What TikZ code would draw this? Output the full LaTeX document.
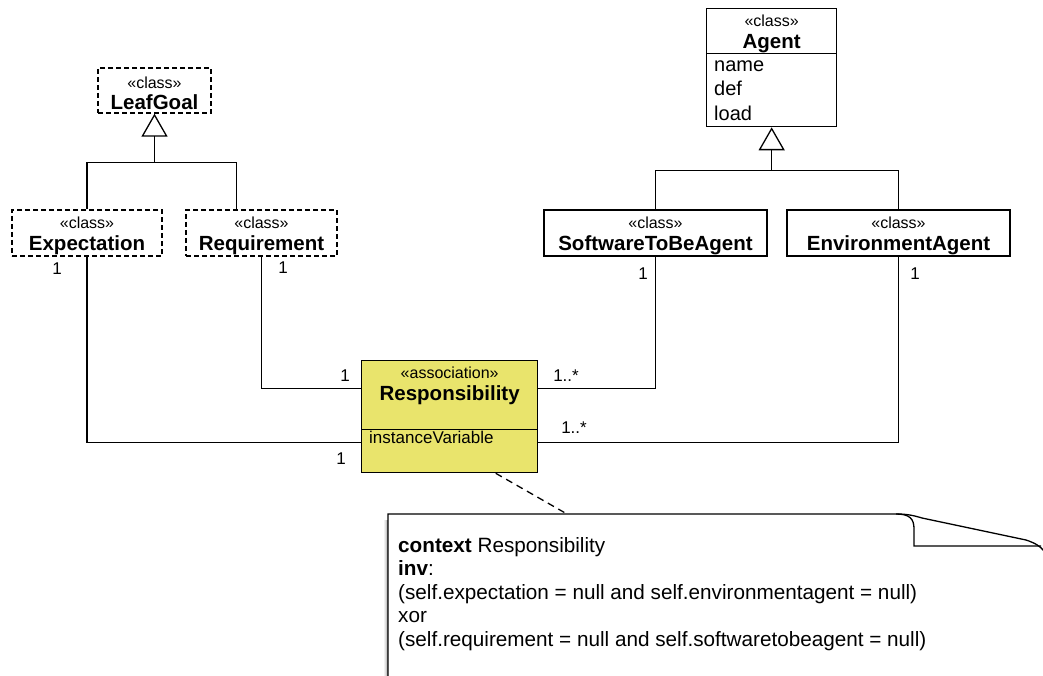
\documentclass[tikz,border=0pt]{standalone}
\usepackage{fontspec}
\setmainfont{Liberation Sans}
\usetikzlibrary{arrows.meta,calc}
\definecolor{assocyellow}{RGB}{233,228,108}
\newcommand\stereo[1]{{\fontsize{16}{18}\selectfont\rule{0pt}{17.5pt}«#1»}}
\newcommand\cname[1]{{\fontsize{20.5}{22}\selectfont\bfseries #1}}
\begin{document}
\begin{tikzpicture}[x=1pt,y=-1pt,
  box/.style={draw, line width=1.3pt, inner sep=0pt, align=center, fill=white, font=\fontsize{20.5}{21.5}\selectfont},
  abstractbox/.style={box, dash pattern=on 5pt off 3pt},
  wire/.style={line width=1.3pt},
  gen/.style={line width=1.3pt, -{Triangle[open, length=23pt, width=26pt, line width=1.3pt]}},
  mult/.style={font=\fontsize{17}{19}\selectfont, inner sep=0pt}
]
\useasboundingbox (0,0) rectangle (1043,676);

% ---- goal hierarchy ----
\node[abstractbox, minimum width=113pt, minimum height=45pt] (leaf) at (154.5,90.5) {\stereo{class}\\\cname{LeafGoal}};
\node[abstractbox, minimum width=150pt, minimum height=46pt] (exp) at (87,233) {\stereo{class}\\\cname{Expectation}};
\node[abstractbox, minimum width=151pt, minimum height=46pt] (req) at (261.5,233) {\stereo{class}\\\cname{Requirement}};

\coordinate (goalbus) at ($(leaf.south)+(0,49)$);
\draw[wire] (exp.north) |- (goalbus) -| ($(req.north west)!0.338!(req.north east)$);
\draw[gen] (goalbus) -- (leaf.south);

% ---- agent hierarchy ----
\node[box, minimum width=130pt, minimum height=45pt, anchor=north west] (agent) at (706,8) {\stereo{class}\\\cname{Agent}};
\node[box, minimum width=130pt, minimum height=73pt, anchor=north west] (agentattr) at (706,53) {};
\node[anchor=north west, inner sep=0pt, font=\fontsize{20}{24.5}\selectfont, align=left] (agentattrtext) at (714,60.5) {name\\def\\load};
\node[box, minimum width=223pt, minimum height=46pt] (sw) at (655.5,233) {\stereo{class}\\\cname{SoftwareToBeAgent}};
\node[box, minimum width=223pt, minimum height=46pt] (env) at (898.5,233) {\stereo{class}\\\cname{EnvironmentAgent}};

\coordinate (agentbus) at ($(agentattr.south)+(0,43)$);
\draw[wire] (sw.north) |- (agentbus) -| (env.north);
\draw[gen] (agentbus) -- (agentattr.south);

% ---- association class ----
\node[box, fill=assocyellow, minimum width=176pt, minimum height=69pt, anchor=north west] (resp) at (361,360) {};
\node[anchor=north, inner sep=0pt, align=center, font=\fontsize{20.5}{21.5}\selectfont] (resptitle) at ($(resp.north)+(0,1)$) {\stereo{association}\\\cname{Responsibility}};
\node[box, fill=assocyellow, minimum width=176pt, minimum height=43pt, anchor=north west] (respattr) at (361,429) {};
\node[anchor=north west, inner sep=0pt, font=\fontsize{17}{19}\selectfont] (ivar) at (369,431) {instanceVariable};

% ---- associations ----
\draw[wire] (req.south) |- ($(resp.north west)!0.406!(resp.south west)$);
\draw[wire] (exp.south) |- ($(respattr.north west)!0.3!(respattr.south west)$);
\draw[wire] (sw.south) |- ($(resp.north east)!0.406!(resp.south east)$);
\draw[wire] (env.south) |- ($(respattr.north east)!0.3!(respattr.south east)$);

\node[mult] (m1) at (57,269) {1};
\node[mult] (m2) at (283,268) {1};
\node[mult] (m3) at (345,376) {1};
\node[mult] (m4) at (341,459) {1};
\node[mult] (m5) at (566,376) {1..*};
\node[mult] (m6) at (574,428) {1..*};
\node[mult] (m7) at (643,274) {1};
\node[mult] (m8) at (915,274) {1};

% ---- OCL note ----
\foreach \d/\o in {1/0.35,2/0.22,3/0.12,4/0.06}
  \draw[black, opacity=\o, line width=1pt] (388-\d,520) -- (388-\d,690);
\draw[line width=1.3pt, fill=white]
  (388,700) -- (388,514) -- (896,514)
  .. controls (906,514) and (912,515) .. (922,518)
  -- (1026,540) .. controls (1035,543) and (1040,546) .. (1044,551)
  -- (1060,560) -- (1060,700) -- cycle;
\draw[line width=1.3pt] (896,514) .. controls (910,514) and (914,519) .. (914,529) -- (914,546) -- (1041,546);
\coordinate (notetop) at (567,514);
\node[anchor=north west, inner sep=0pt, align=left, font=\fontsize{20.7}{23.5}\selectfont] (notetext) at (398,537)
  {\textbf{context} Responsibility\\
   \textbf{inv}:\\
   (self.expectation = null and self.environmentagent = null)\\
   xor\\
   (self.requirement = null and self.softwaretobeagent = null)};
\draw[line width=1.3pt, dash pattern=on 7pt off 5pt] ($(respattr.south west)!0.76!(respattr.south east)$) -- (notetop);
\end{tikzpicture}
\end{document}
